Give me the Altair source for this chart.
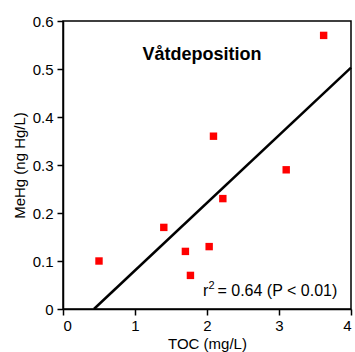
import altair as alt
import pandas as pd

toc = [0.50, 1.40, 1.70, 1.77, 2.03, 2.22, 2.09, 3.10, 3.62]
mehg = [0.10, 0.17, 0.12, 0.07, 0.13, 0.23, 0.36, 0.29, 0.57]

fit_x = [0.43, 4.0]
fit_y = [0.0, 0.503]

title_text = ["Våtdeposition"]
title_x = [1.93]
title_y = [0.529]

stat_parts = ["r", "2", "= 0.64 (P < 0.01)"]
stat_x = [1.944]
stat_y = [0.037]

FONT = "Liberation Sans"

pts = pd.DataFrame({"TOC": toc, "MeHg": mehg})
fit = pd.DataFrame({"TOC": fit_x, "MeHg": fit_y})
ttl = pd.DataFrame({"TOC": title_x, "MeHg": title_y, "t": title_text})

xs = alt.Scale(domain=[0, 4], nice=False, zero=False)
ys = alt.Scale(domain=[0, 0.6], nice=False, zero=False)

common = dict(grid=False, tickSize=6, domainColor="black", domainWidth=1.5,
              tickColor="black", tickWidth=1.5, labelFont=FONT, labelFontSize=15,
              labelColor="black", titleFont=FONT, titleFontSize=15,
              titleFontWeight="normal", titleColor="black", labelExpr="datum.value")

xax = alt.Axis(title="TOC (mg/L)", values=[0, 0.5, 1, 1.5, 2, 2.5, 3, 3.5, 4],
               labelPadding=3, titlePadding=3, **common)
yax = alt.Axis(title="MeHg (ng Hg/L)", values=[0, 0.1, 0.2, 0.3, 0.4, 0.5, 0.6],
               labelPadding=4, titlePadding=5, **common)

points = alt.Chart(pts).mark_point(shape="square", filled=True, color="#ff0000",
                                   size=55, opacity=1).encode(
    x=alt.X("TOC:Q", scale=xs, axis=xax),
    y=alt.Y("MeHg:Q", scale=ys, axis=yax),
)

line = alt.Chart(fit).mark_line(color="black", strokeWidth=2.5).encode(
    x=alt.X("TOC:Q", scale=xs),
    y=alt.Y("MeHg:Q", scale=ys),
)

title = alt.Chart(ttl).mark_text(font=FONT, fontSize=18, fontWeight="bold",
                                 color="black", align="center", baseline="middle").encode(
    x=alt.X("TOC:Q", scale=xs), y=alt.Y("MeHg:Q", scale=ys), text="t:N")

stat_layers = []
for part, fs, dx, dy in [(stat_parts[0], 16, 0, 0),
                         (stat_parts[1], 11, 5.5, -5),
                         (stat_parts[2], 16, 14.5, 0)]:
    df = pd.DataFrame({"TOC": stat_x, "MeHg": stat_y, "t": [part]})
    stat_layers.append(
        alt.Chart(df).mark_text(font=FONT, fontSize=fs, color="black", align="left",
                                baseline="middle", dx=dx, dy=dy).encode(
            x=alt.X("TOC:Q", scale=xs), y=alt.Y("MeHg:Q", scale=ys), text="t:N")
    )

chart = alt.layer(line, points, title, *stat_layers).properties(
    width=288, height=288,
    autosize=alt.AutoSizeParams(type="none"),
    padding={"left": 63, "top": 21, "right": 4, "bottom": 43},
    background="white",
).configure_view(stroke="black", strokeWidth=1.5)

chart.save("out.html", embed_options={"renderer": "svg", "actions": False})
